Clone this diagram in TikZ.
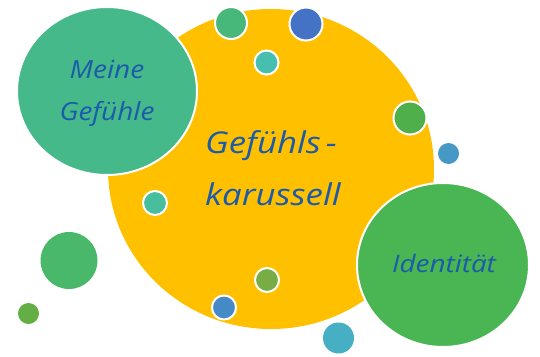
\documentclass[tikz,border=0pt]{standalone}
\usepackage{fontspec}
\newfontfamily\handfont[FakeStretch=1.12]{Open Sans}
\newfontfamily\handwide[FakeStretch=1.16]{Open Sans}
\definecolor{carousel}{HTML}{FFC000}
\definecolor{feelgreen}{HTML}{46B98B}
\definecolor{identgreen}{HTML}{4AB553}
\definecolor{textblue}{HTML}{1C5AAA}

\begin{document}
\begin{tikzpicture}
[x=1pt,y=-1pt,
 bubble/.style={draw=white,line width=2pt},
 handtext/.style={text=textblue,font=\handfont\itshape,inner sep=0pt}]
\useasboundingbox (0,0) rectangle (540,356);
% big circles
\fill[carousel] (271,169) circle [x radius=163pt, y radius=160pt];
\filldraw[bubble,fill=feelgreen] (107,91) circle [x radius=90pt, y radius=84pt];
\filldraw[bubble,fill=identgreen] (443,265) circle [x radius=86pt, y radius=82pt];
% small bubbles with white rim
\filldraw[bubble,fill={rgb,255:red,72;green,183;blue,122}] (231,23) circle (16pt);
\filldraw[bubble,fill={rgb,255:red,68;green,114;blue,196}] (306,24) circle (16.5pt);
\filldraw[bubble,fill={rgb,255:red,71;green,191;blue,176}] (266.5,62.5) circle (12pt);
\filldraw[bubble,fill={rgb,255:red,79;green,176;blue,75}] (410,118) circle (16.5pt);
\filldraw[bubble,fill={rgb,255:red,71;green,191;blue,159}] (155,203) circle (12pt);
\filldraw[bubble,fill={rgb,255:red,119;green,173;blue,68}] (267,280) circle (12pt);
\filldraw[bubble,fill={rgb,255:red,69;green,137;blue,198}] (224,307.5) circle (12pt);
% loose bubbles
\fill[fill={rgb,255:red,69;green,153;blue,196}] (448.5,153.5) circle (10.5pt);
\fill[fill={rgb,255:red,74;green,184;blue,106}] (69,260.5) circle (28.5pt);
\fill[fill={rgb,255:red,99;green,175;blue,70}] (28.5,313.5) circle (10.5pt);
\fill[fill={rgb,255:red,70;green,175;blue,196}] (338.5,338) circle (15.5pt);
% texts
\node[handtext,font=\handfont\itshape\fontsize{25}{30}\selectfont,anchor=base] (meine) at (107,78) {Meine};
\node[handtext,font=\handfont\itshape\fontsize{25}{30}\selectfont,anchor=base] (gefuehle) at (107,120) {Gefühle};
\node[handtext,font=\handwide\itshape\fontsize{30}{36}\selectfont,anchor=base west] (gefuehls) at (205,153) {Gefühls\,-};
\node[handtext,font=\handwide\itshape\fontsize{30}{36}\selectfont,anchor=base west] (karussell) at (205,205) {karussell};
\node[handtext,font=\handwide\itshape\fontsize{24}{29}\selectfont,anchor=base] (identitaet) at (444,272) {Identität};
\end{tikzpicture}
\end{document}
